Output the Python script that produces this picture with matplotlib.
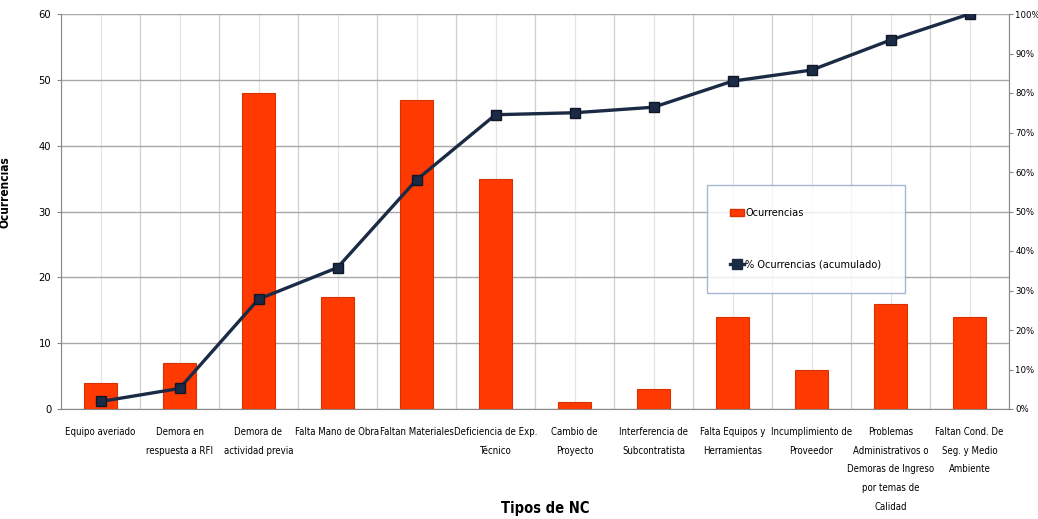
import matplotlib
matplotlib.use('Agg')
import matplotlib.pyplot as plt
from matplotlib.lines import Line2D
from matplotlib.patches import Patch
from matplotlib.ticker import FuncFormatter

plt.rcParams['font.family'] = ['DejaVu Sans']
plt.rcParams['font.stretch'] = 'condensed'

# datos
categorias = [
    'Equipo averiado',
    'Demora en\nrespuesta a RFI',
    'Demora de\nactividad previa',
    'Falta Mano de Obra',
    'Faltan Materiales',
    'Deficiencia de Exp.\nTécnico',
    'Cambio de\nProyecto',
    'Interferencia de\nSubcontratista',
    'Falta Equipos y\nHerramientas',
    'Incumplimiento de\nProveedor',
    'Problemas\nAdministrativos o\nDemoras de Ingreso\npor temas de\nCalidad',
    'Faltan Cond. De\nSeg. y Medio\nAmbiente',
]
ocurrencias = [4, 7, 48, 17, 47, 35, 1, 3, 14, 6, 16, 14]
acumulado_pct = [1.9, 5.2, 27.8, 35.8, 58.0, 74.5, 75.0, 76.4, 83.0, 85.8, 93.4, 100.0]

color_barra = '#FF3A00'
color_linea = '#1B2B45'

fig = plt.figure(figsize=(10.38, 5.19), dpi=100)
ax = fig.add_axes([61 / 1038, 1 - 409 / 519, 948 / 1038, 395 / 519])
x = list(range(len(categorias)))

ax.bar(x, ocurrencias, width=0.41, color=color_barra, edgecolor='#D83200',
       linewidth=0.8, zorder=3)
ax.set_xlim(-0.5, len(categorias) - 0.5)
ax.set_ylim(0, 60)
ax.set_yticks(range(0, 61, 10))

# rejilla: verticales entre categorias y en el centro
ax.set_xticks([i - 0.5 for i in range(len(categorias) + 1)], minor=True)
ax.set_xticks(x)
ax.set_xticklabels(categorias, fontsize=6.9, linespacing=2.08, va='top')
ax.grid(True, which='minor', axis='x', color='#CFCFCF', linewidth=0.9, zorder=0)
ax.grid(True, which='major', axis='x', color='#E4E4E4', linewidth=0.9, zorder=0)
ax.grid(True, which='major', axis='y', color='#A8A8A8', linewidth=1.0, zorder=1)
ax.tick_params(axis='x', which='both', length=0, pad=13)
ax.tick_params(axis='y', length=3, color='#888888', labelsize=8, pad=4)
for s in ['top', 'right']:
    ax.spines[s].set_visible(False)
for s in ['left', 'bottom']:
    ax.spines[s].set_color('#888888')

ax2 = ax.twinx()
ax2.plot(x, acumulado_pct, color=color_linea, linewidth=2.4, marker='s',
         markersize=7.5, markerfacecolor=color_linea, markeredgecolor='#0E1828',
         zorder=5)
ax2.set_ylim(0, 100)
ax2.set_yticks(range(0, 101, 10))
ax2.yaxis.set_major_formatter(FuncFormatter(lambda v, p: f'{int(v)}%'))
ax2.tick_params(axis='y', length=3, color='#888888', labelsize=6.8, pad=1.5)
for s in ['top', 'left', 'bottom']:
    ax2.spines[s].set_visible(False)
ax2.spines['right'].set_color('#888888')

fig.text(5 / 1038, 1 - 192 / 519, 'Ocurrencias', rotation=90, fontsize=8.5,
         fontweight='bold', ha='center', va='center')
fig.text(545 / 1038, 1 - 508 / 519, 'Tipos de NC', fontsize=10.5,
         fontweight='bold', ha='center', va='center')

handles = [
    Patch(facecolor=color_barra, edgecolor='#D83200'),
    Line2D([0], [0], color=color_linea, linewidth=2.4, marker='s', markersize=7,
           markerfacecolor=color_linea),
]
leg = ax2.legend(handles, ['Ocurrencias', '% Ocurrencias (acumulado)'],
                 loc='upper left', bbox_to_anchor=(707 / 1038, 1 - 185 / 519),
                 bbox_transform=fig.transFigure, fontsize=7.8, frameon=True,
                 fancybox=False, borderpad=2.15, labelspacing=3.8,
                 handlelength=1.3, handleheight=0.6, handletextpad=0.1,
                 borderaxespad=0)
leg.get_frame().set_edgecolor('#8FA6C8')
leg.get_frame().set_linewidth(1.0)
leg.set_zorder(10)

fig.savefig('out.png', dpi=100)
